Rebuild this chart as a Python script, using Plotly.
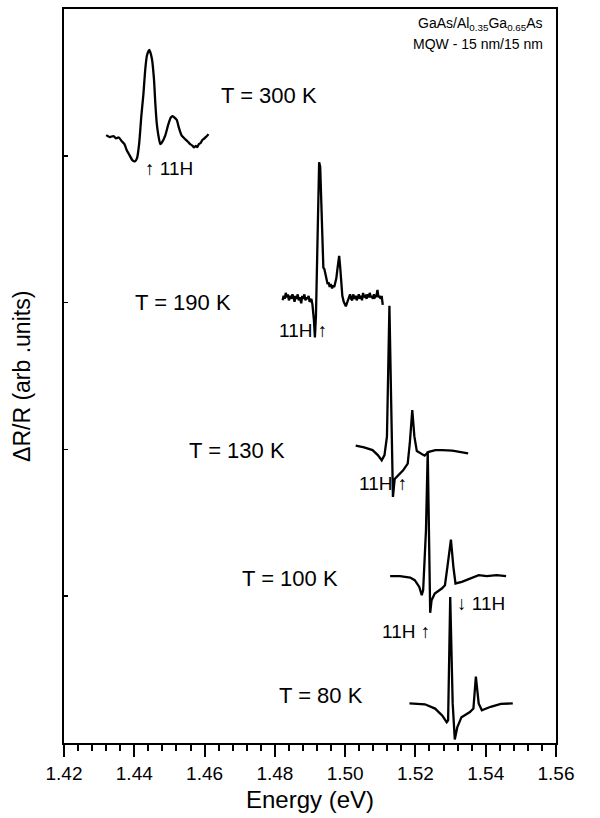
import plotly.graph_objects as go

# ---- data (energy in eV, dR/R in arbitrary offset units) ----
e_300 = [1.4320, 1.4330, 1.4341, 1.4348, 1.4356, 1.4365, 1.4372, 1.4378, 1.4386, 1.4395, 1.4402,
         1.4408, 1.4414, 1.4420, 1.4426, 1.4431, 1.4436, 1.4443, 1.4450, 1.4456, 1.4460, 1.4464,
         1.4468, 1.4474, 1.4479, 1.4488, 1.4497, 1.4504, 1.4509, 1.4516, 1.4521, 1.4526, 1.4530,
         1.4535, 1.4545, 1.4552, 1.4559, 1.4565, 1.4570, 1.4575, 1.4579, 1.4584, 1.4589, 1.4594,
         1.4598, 1.4604, 1.4608, 1.4611]
y_300 = [4.143, 4.130, 4.137, 4.122, 4.127, 4.100, 4.082, 4.045, 4.010, 3.973, 3.966,
         3.990, 4.090, 4.270, 4.420, 4.580, 4.680, 4.717, 4.660, 4.520, 4.352, 4.220,
         4.150, 4.083, 4.095, 4.140, 4.217, 4.262, 4.271, 4.258, 4.245, 4.200, 4.170,
         4.140, 4.115, 4.100, 4.082, 4.073, 4.060, 4.070, 4.062, 4.083, 4.090, 4.112,
         4.118, 4.132, 4.140, 4.150]

e_190 = [1.4822, 1.4825, 1.4828, 1.4831, 1.4834, 1.4837, 1.4840, 1.4844, 1.4847, 1.4850,
         1.4853, 1.4856, 1.4859, 1.4862, 1.4865, 1.4868, 1.4871, 1.4875, 1.4878, 1.4881,
         1.4884, 1.4887, 1.4890, 1.4893, 1.4896, 1.4899, 1.4904, 1.4907, 1.4911, 1.4914,
         1.4917, 1.4920, 1.4923, 1.4926, 1.4929, 1.4933, 1.4936, 1.4938, 1.4941, 1.4944,
         1.4947, 1.4950, 1.4953, 1.4956, 1.4959, 1.4963, 1.4966, 1.4969, 1.4972, 1.4975,
         1.4978, 1.4981, 1.4983, 1.4986, 1.4989, 1.4992, 1.4996, 1.4999, 1.5002, 1.5005,
         1.5008, 1.5011, 1.5014, 1.5017, 1.5020, 1.5023, 1.5027, 1.5030, 1.5033, 1.5036,
         1.5039, 1.5042, 1.5045, 1.5048, 1.5051, 1.5054, 1.5058, 1.5061, 1.5064, 1.5067,
         1.5070, 1.5073, 1.5076, 1.5079, 1.5082, 1.5085, 1.5089, 1.5092, 1.5095, 1.5098,
         1.5101, 1.5104, 1.5107]
y_190 = [3.03, 3.06, 3.04, 3.08, 3.05, 3.07, 3.03, 3.06, 3.04, 3.07,
         3.05, 3.02, 3.06, 3.04, 3.07, 3.03, 3.05, 3.01, 3.06, 3.04,
         3.07, 3.03, 3.05, 3.04, 3.06, 3.02, 3.04, 3.00, 2.90, 2.78,
         2.93, 3.30, 3.75, 3.96, 3.93, 3.65, 3.35, 3.25, 3.24, 3.20,
         3.17, 3.14, 3.15, 3.12, 3.14, 3.11, 3.13, 3.12, 3.15, 3.18,
         3.24, 3.30, 3.33, 3.25, 3.16, 3.06, 3.02, 3.00, 2.99, 3.01,
         3.03, 3.06, 3.07, 3.04, 3.03, 3.07, 3.04, 3.06, 3.03, 3.05,
         3.07, 3.04, 3.06, 3.03, 3.08, 3.05, 3.06, 3.04, 3.07, 3.05,
         3.08, 3.05, 3.06, 3.04, 3.07, 3.05, 3.06, 3.10, 3.05, 3.06,
         3.04, 3.06, 3.00]

e_130 = [1.5030, 1.5054, 1.5078, 1.5093, 1.5104, 1.5112, 1.5119, 1.5126, 1.5131, 1.5136,
         1.5141, 1.5151, 1.5165, 1.5178, 1.5184, 1.5191, 1.5197, 1.5204, 1.5213, 1.5226,
         1.5238, 1.5257, 1.5276, 1.5305, 1.5350]
y_130 = [2.051, 2.039, 2.021, 1.987, 1.952, 1.987, 2.113, 2.994, 2.342, 1.705,
         1.826, 1.849, 1.884, 1.929, 2.067, 2.291, 2.113, 2.014, 1.999, 1.983,
         2.009, 2.021, 2.021, 2.017, 1.999]

e_100 = [1.5128, 1.5156, 1.5185, 1.5198, 1.5211, 1.5218, 1.5222, 1.5230, 1.5235, 1.5239,
         1.5242, 1.5246, 1.5255, 1.5275, 1.5284, 1.5291, 1.5301, 1.5308, 1.5314, 1.5332,
         1.5356, 1.5380, 1.5403, 1.5431, 1.5458]
y_100 = [1.171, 1.171, 1.162, 1.144, 1.099, 1.043, 1.077, 1.480, 2.012, 1.413,
         0.924, 1.009, 1.054, 1.088, 1.110, 1.234, 1.418, 1.234, 1.122, 1.133,
         1.155, 1.178, 1.171, 1.178, 1.171]

e_80 = [1.5183, 1.5227, 1.5256, 1.5276, 1.5289, 1.5293, 1.5299, 1.5306, 1.5312, 1.5319,
        1.5331, 1.5355, 1.5365, 1.5372, 1.5380, 1.5389, 1.5414, 1.5443, 1.5477]
y_80 = [0.314, 0.308, 0.279, 0.233, 0.187, 0.199, 1.030, 0.314, 0.071, 0.152,
        0.221, 0.256, 0.279, 0.495, 0.314, 0.268, 0.291, 0.310, 0.314]

temp_labels = ["T = 300 K", "T = 190 K", "T = 130 K", "T = 100 K", "T = 80 K"]
temp_label_x = [1.4641, 1.4397, 1.4550, 1.4701, 1.4806]
temp_label_y = [4.408, 3.015, 2.019, 1.157, 0.370]

peak_labels = ["\u2191 11H", "11H \u2191", "11H \u2191", "11H \u2191", "\u2193 11H"]
peak_label_x = [1.4425, 1.4806, 1.5034, 1.5099, 1.5312]
peak_label_y = [3.917, 2.826, 1.797, 0.801, 0.989]

x_range = [1.42, 1.56]
y_range = [0.047, 4.993]
y_ticks = [1.036, 2.025, 3.015, 4.004]

FONT = "Liberation Sans, Arial, sans-serif"

fig = go.Figure()
line_style = dict(color="black", width=2.3)
fig.add_trace(go.Scatter(x=e_300, y=y_300, mode="lines",
                         line=dict(color="black", width=2.3, shape="spline", smoothing=0.6)))
for ex, yy in [(e_190, y_190), (e_130, y_130), (e_100, y_100), (e_80, y_80)]:
    fig.add_trace(go.Scatter(x=ex, y=yy, mode="lines", line=line_style))

for t, x, y in zip(temp_labels, temp_label_x, temp_label_y):
    fig.add_annotation(x=x, y=y, text=t, showarrow=False, xanchor="left", yanchor="middle",
                       font=dict(family=FONT, size=22, color="black"))
for t, x, y in zip(peak_labels, peak_label_x, peak_label_y):
    fig.add_annotation(x=x, y=y, text=t, showarrow=False, xanchor="left", yanchor="middle",
                       font=dict(family=FONT, size=19, color="black"))

fig.add_annotation(xref="paper", yref="paper", x=0.978, y=0.980,
                   text="GaAs/Al<sub>0.35</sub>Ga<sub>0.65</sub>As", showarrow=False,
                   xanchor="right", yanchor="middle", font=dict(family=FONT, size=14, color="black"))
fig.add_annotation(xref="paper", yref="paper", x=0.978, y=0.952,
                   text="MQW - 15 nm/15 nm", showarrow=False,
                   xanchor="right", yanchor="middle", font=dict(family=FONT, size=14, color="black"))

# axis titles placed as paper annotations
fig.add_annotation(xref="paper", yref="paper", x=0.5, y=-0.0774,
                   text="Energy (eV)", showarrow=False, xanchor="center", yanchor="middle",
                   font=dict(family=FONT, size=24, color="black"))
fig.add_annotation(xref="paper", yref="paper", x=-0.0854, y=0.5, textangle=-90,
                   text="\u0394R/R (arb .units)", showarrow=False, xanchor="center", yanchor="middle",
                   font=dict(family=FONT, size=23, color="black"))

fig.update_layout(
    width=600, height=818,
    margin=dict(l=64, r=44, t=7, b=75),
    paper_bgcolor="white", plot_bgcolor="white",
    showlegend=False, hovermode=False,
    font=dict(family=FONT, color="black"),
)
fig.update_xaxes(
    range=x_range, dtick=0.02, tick0=1.42, tickformat=".2f",
    ticks="outside", ticklen=12, tickwidth=2, tickcolor="black",
    minor=dict(dtick=0.004, ticks="outside", ticklen=6, tickwidth=2, tickcolor="black"),
    showline=True, linewidth=2, linecolor="black", mirror=True,
    showgrid=False, zeroline=False,
    tickfont=dict(family=FONT, size=19, color="black"),
)
fig.update_yaxes(
    range=y_range, tickvals=y_ticks, showticklabels=False,
    ticks="inside", ticklen=4, tickwidth=1.5, tickcolor="black",
    showline=True, linewidth=2, linecolor="black", mirror=True,
    showgrid=False, zeroline=False,
)

fig.write_html("out.html", config={"displayModeBar": False, "staticPlot": True},
               post_script="document.body.style.margin='0';")
